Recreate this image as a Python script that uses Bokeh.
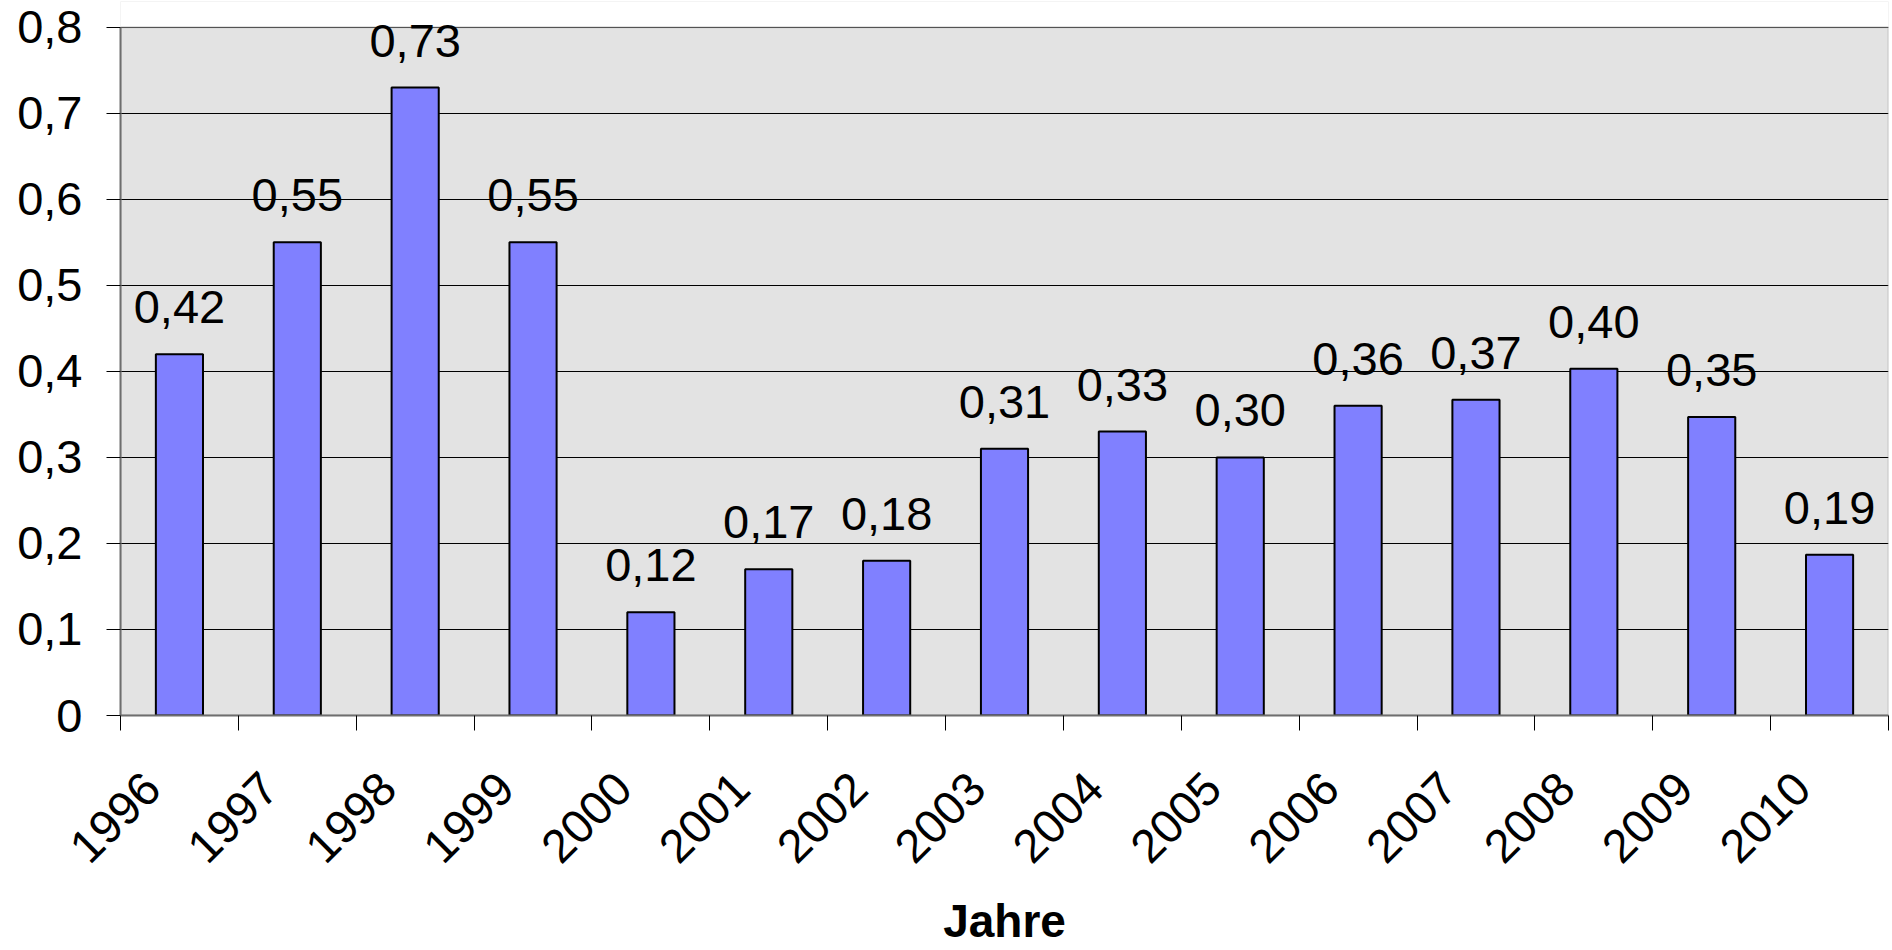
import math
from bokeh.plotting import figure
from bokeh.models import FixedTicker, CustomJSTickFormatter, ColumnDataSource, Range1d, BoxAnnotation
from bokeh.core.properties import value
from bokeh.embed import file_html
from bokeh.resources import INLINE

years = ["1996", "1997", "1998", "1999", "2000", "2001", "2002", "2003",
         "2004", "2005", "2006", "2007", "2008", "2009", "2010"]
values = [0.42, 0.55, 0.73, 0.55, 0.12, 0.17, 0.18, 0.31,
          0.33, 0.30, 0.36, 0.367, 0.403, 0.347, 0.187]
y_ticks = [0, 0.1, 0.2, 0.3, 0.4, 0.5, 0.6, 0.7, 0.8]
x_title = "Jahre"

FONT = "Liberation Sans"
NBSP = "\u00a0"
Y_MAX = 0.8
Y_HEADROOM = 0.83  # extra room above the plot frame so labels are not clipped

xs = list(range(len(years)))
labels = [("%.2f" % v).replace(".", ",") for v in values]
src = ColumnDataSource(dict(x=xs, top=values, label=labels))

x_lo, x_hi = -0.5, len(years) - 0.5

p = figure(width=1890, height=950, output_backend="svg", toolbar_location=None,
           x_range=Range1d(x_lo, x_hi), y_range=Range1d(0, Y_HEADROOM),
           min_border_left=120, min_border_right=2, min_border_top=1, min_border_bottom=235)

p.background_fill_color = "#E3E3E3"
p.border_fill_color = "white"
p.outline_line_color = None

# white cover above the 0.8 line
p.add_layout(BoxAnnotation(left=x_lo, right=x_hi, bottom=Y_MAX, top=Y_HEADROOM,
                           fill_color="white", fill_alpha=1, line_color=None, level="underlay"))

p.vbar(x="x", top="top", width=0.4, bottom=0, source=src,
       fill_color="#8080FF", line_color="black", line_width=2)

p.text(x="x", y="top", text="label", source=src, text_align="center",
       text_baseline="alphabetic", y_offset=-47, text_font=value(FONT),
       text_font_size="47px", text_color="black")

# frame border
p.add_layout(BoxAnnotation(left=x_lo, right=x_hi, bottom=0, top=Y_MAX,
                           fill_color=None, fill_alpha=0, line_color="#808080", line_width=2,
                           level="underlay"))

# y axis
p.yaxis.ticker = FixedTicker(ticks=y_ticks)
p.yaxis.bounds = (0, Y_MAX)
p.yaxis.formatter = CustomJSTickFormatter(code="""
if (Math.abs(tick) < 1e-9) { return "0"; }
return tick.toFixed(1).replace('.', ',');
""")
p.yaxis.major_label_text_font = FONT
p.yaxis.major_label_text_font_size = "47px"
p.yaxis.major_label_text_color = "black"
p.yaxis.major_tick_in = 0
p.yaxis.major_tick_out = 14
p.yaxis.major_tick_line_color = "black"
p.yaxis.minor_tick_line_color = None
p.yaxis.axis_line_color = "#6e6e6e"
p.yaxis.axis_line_width = 2
p.yaxis.major_label_standoff = 24

# x axis
minor = [i - 0.5 for i in range(len(years) + 1)]
p.xaxis.ticker = FixedTicker(ticks=xs, minor_ticks=minor)
p.xaxis.major_label_overrides = {i: y + NBSP * 3 for i, y in zip(xs, years)}
p.xaxis.major_label_orientation = math.pi / 4
p.xaxis.major_label_text_font = FONT
p.xaxis.major_label_text_font_size = "47px"
p.xaxis.major_label_text_color = "black"
p.xaxis.major_tick_line_color = None
p.xaxis.major_tick_in = 0
p.xaxis.major_tick_out = 15
p.xaxis.minor_tick_in = 0
p.xaxis.minor_tick_out = 15
p.xaxis.minor_tick_line_color = "black"
p.xaxis.axis_line_color = "#6e6e6e"
p.xaxis.axis_line_width = 2
p.xaxis.major_label_standoff = 22
p.xaxis.axis_label = x_title
p.xaxis.axis_label_text_font = FONT
p.xaxis.axis_label_text_font_size = "46px"
p.xaxis.axis_label_text_font_style = "bold"
p.xaxis.axis_label_text_color = "black"
p.xaxis.axis_label_standoff = 0

p.xgrid.grid_line_color = None
p.ygrid.ticker = FixedTicker(ticks=y_ticks)
p.ygrid.grid_line_color = "black"
p.ygrid.grid_line_width = 1

open("out.html", "w").write(file_html(p, INLINE))
